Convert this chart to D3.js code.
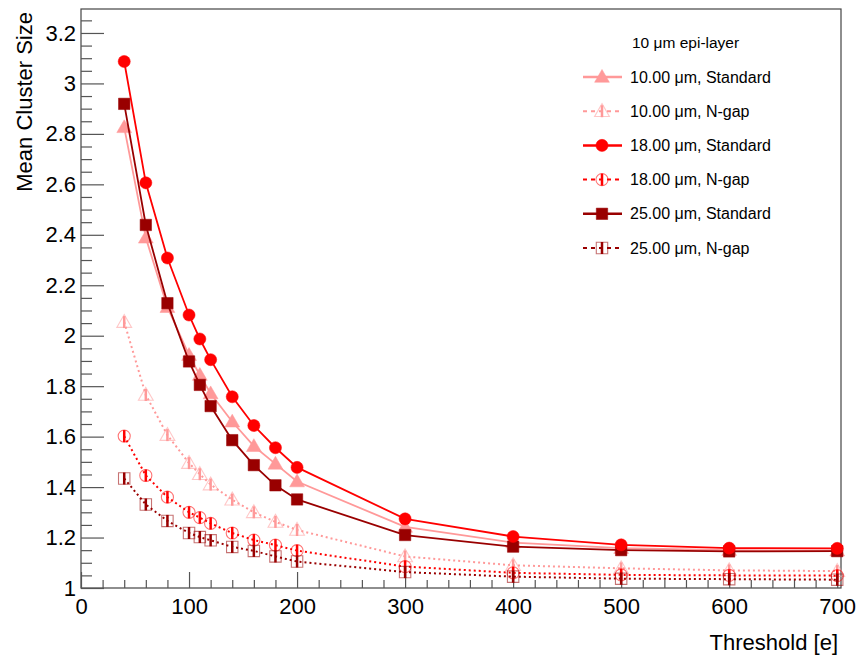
<!DOCTYPE html>
<html>
<head>
<meta charset="utf-8">
<script src="https://cdn.jsdelivr.net/npm/d3@7"></script>
<style>
  body { margin: 0; background: #fff; }
  text { font-family: "Liberation Sans", Arial, Helvetica, sans-serif; fill: #000; }
</style>
</head>
<body>
<div id="chart"></div>
<script>
// Data
let thresholds = [40, 60, 80, 100, 110, 120, 140, 160, 180, 200, 300, 400, 500, 600, 700];

let std10 = [2.826, 2.388, 2.113, 1.923, 1.844, 1.771, 1.659, 1.562, 1.492, 1.422, 1.242, 1.180, 1.158, 1.150, 1.148];
let ngap10 = [2.054, 1.765, 1.606, 1.495, 1.451, 1.410, 1.350, 1.300, 1.262, 1.230, 1.125, 1.090, 1.078, 1.070, 1.067];
let std18 = [3.087, 2.606, 2.308, 2.082, 1.987, 1.905, 1.758, 1.644, 1.556, 1.478, 1.274, 1.204, 1.171, 1.158, 1.157];
let ngap18 = [1.602, 1.446, 1.360, 1.300, 1.279, 1.256, 1.218, 1.190, 1.170, 1.148, 1.085, 1.060, 1.052, 1.050, 1.049];
let std25 = [2.919, 2.439, 2.129, 1.898, 1.805, 1.721, 1.586, 1.487, 1.407, 1.351, 1.210, 1.164, 1.150, 1.145, 1.146];
let ngap25 = [1.434, 1.331, 1.266, 1.218, 1.202, 1.189, 1.163, 1.147, 1.125, 1.105, 1.063, 1.045, 1.037, 1.035, 1.033];

let seriesNames = ["10.00 \u03bcm, Standard", "10.00 \u03bcm, N-gap",
                   "18.00 \u03bcm, Standard", "18.00 \u03bcm, N-gap",
                   "25.00 \u03bcm, Standard", "25.00 \u03bcm, N-gap"];
let seriesValues = [std10, ngap10, std18, ngap18, std25, ngap25];
let legendTitle = "10 \u03bcm epi-layer";

let xTickValues = [0, 100, 200, 300, 400, 500, 600, 700];
let yTickValues = [1, 1.2, 1.4, 1.6, 1.8, 2, 2.2, 2.4, 2.6, 2.8, 3, 3.2];

// styles for each series (same order as seriesNames)
let styles = [
  {color: "#ff9999", shape: d3.symbolTriangle, filled: true,  dash: null},
  {color: "#ff9999", shape: d3.symbolTriangle, filled: false, dash: "2,3"},
  {color: "#ff0000", shape: d3.symbolCircle,   filled: true,  dash: null},
  {color: "#ff0000", shape: d3.symbolCircle,   filled: false, dash: "2,3"},
  {color: "#990000", shape: d3.symbolSquare,   filled: true,  dash: null},
  {color: "#990000", shape: d3.symbolSquare,   filled: false, dash: "2,3"}
];

let svgWidth = 856;
let svgHeight = 658;

let margin = {
  top : 9,
  right : 15,
  bottom : 70,
  left : 81
};

let width = svgWidth - margin.left - margin.right;
let height = svgHeight - margin.top - margin.bottom;

let svg = d3.select("#chart")
  .append("svg")
  .attr("width", svgWidth)
  .attr("height", svgHeight);

let chartGroup = svg.append("g")
  .attr("transform", `translate(${margin.left}, ${margin.top})`);

let xScale = d3.scaleLinear().domain([0, 703.5]).range([0, width]);
let yScale = d3.scaleLinear().domain([1, 3.295]).range([height, 0]);

// frame
chartGroup.append("rect")
  .attr("width", width)
  .attr("height", height)
  .attr("fill", "none")
  .attr("stroke", "#444")
  .attr("stroke-width", 1.2);

// x axis: major ticks + minor ticks
let xMinor = d3.range(0, 701, 20).filter(v => v % 100 !== 0);
let xAxisG = chartGroup.append("g")
  .attr("transform", `translate(0, ${height})`);
xAxisG.append("g")
  .call(d3.axisBottom(xScale).tickValues(xMinor).tickSize(-8).tickFormat(""))
  .call(g => g.select(".domain").remove());
xAxisG.append("g")
  .call(d3.axisBottom(xScale).tickValues(xTickValues).tickSize(-16).tickPadding(10).tickFormat(d3.format("d")))
  .call(g => g.select(".domain").remove())
  .call(g => g.selectAll("text").attr("font-size", 22).attr("font-family", "Liberation Sans, Arial, sans-serif"));
xAxisG.selectAll("line").attr("stroke", "#555").attr("stroke-width", 1.2);

// y axis: major ticks + minor ticks
let yMinor = d3.range(1, 3.29, 0.05).filter(v => Math.abs(v * 5 - Math.round(v * 5)) > 0.01);
let yAxisG = chartGroup.append("g");
yAxisG.append("g")
  .call(d3.axisLeft(yScale).tickValues(yMinor).tickSize(-11).tickFormat(""))
  .call(g => g.select(".domain").remove());
yAxisG.append("g")
  .call(d3.axisLeft(yScale).tickValues(yTickValues).tickSize(-23).tickPadding(5).tickFormat(d => d3.format("")(+d.toFixed(1))))
  .call(g => g.select(".domain").remove())
  .call(g => g.selectAll("text").attr("font-size", 22).attr("font-family", "Liberation Sans, Arial, sans-serif"));
yAxisG.selectAll("line").attr("stroke", "#555").attr("stroke-width", 1.2);

// axis titles
svg.append("text")
  .attr("transform", "rotate(-90)")
  .attr("x", -12)
  .attr("y", 32)
  .attr("text-anchor", "end")
  .attr("font-size", 22)
  .text("Mean Cluster Size");

svg.append("text")
  .attr("x", 838)
  .attr("y", 650)
  .attr("text-anchor", "end")
  .attr("font-size", 22)
  .text("Threshold [e]");

// draw one marker
function drawMarker(g, st, cx, cy) {
  let size = st.shape === d3.symbolTriangle ? 95 : (st.shape === d3.symbolCircle ? 115 : 130);
  if (!st.filled) {
    g.append("line")
      .attr("x1", cx).attr("x2", cx)
      .attr("y1", cy - 6).attr("y2", cy + 6)
      .attr("stroke", st.color)
      .attr("stroke-width", 2.5);
  }
  g.append("path")
    .attr("d", d3.symbol().type(st.shape).size(size)())
    .attr("transform", `translate(${cx}, ${cy + (st.shape === d3.symbolTriangle ? 1 : 0)})`)
    .attr("fill", st.filled ? st.color : "none")
    .attr("stroke", st.color)
    .attr("stroke-opacity", st.filled ? 1 : 0.55)
    .attr("stroke-width", st.filled ? 0.5 : 1.1);
}

let line = d3.line()
  .x(d => xScale(d.x))
  .y(d => yScale(d.y));

// draw dotted (N-gap) series first, then standard on top
let drawOrder = [1, 3, 5, 0, 4, 2];
drawOrder.forEach(function(i) {
  let st = styles[i];
  let pts = thresholds.map((t, j) => ({x: t, y: seriesValues[i][j]}));
  let g = chartGroup.append("g").attr("class", "series");

  g.append("path")
    .datum(pts)
    .attr("d", line)
    .attr("fill", "none")
    .attr("stroke", st.color)
    .attr("stroke-width", st.dash ? 2 : 1.8)
    .attr("stroke-dasharray", st.dash);

  pts.forEach(p => drawMarker(g, st, xScale(p.x), yScale(p.y)));
});

// legend
let legend = svg.append("g");
legend.append("text")
  .attr("x", 632)
  .attr("y", 48)
  .attr("font-size", 15.5)
  .text(legendTitle);

seriesNames.forEach(function(name, i) {
  let st = styles[i];
  let ly = 77 + i * 34.2;
  let row = legend.append("g");
  row.append("line")
    .attr("x1", 583).attr("x2", 622)
    .attr("y1", ly).attr("y2", ly)
    .attr("stroke", st.color)
    .attr("stroke-width", st.dash ? 2 : 2.5)
    .attr("stroke-dasharray", st.dash ? "4,4" : null);
  drawMarker(row, st, 602, ly);
  row.append("text")
    .attr("x", 630)
    .attr("y", ly + 5.5)
    .attr("font-size", 16)
    .text(name);
});
</script>
</body>
</html>
